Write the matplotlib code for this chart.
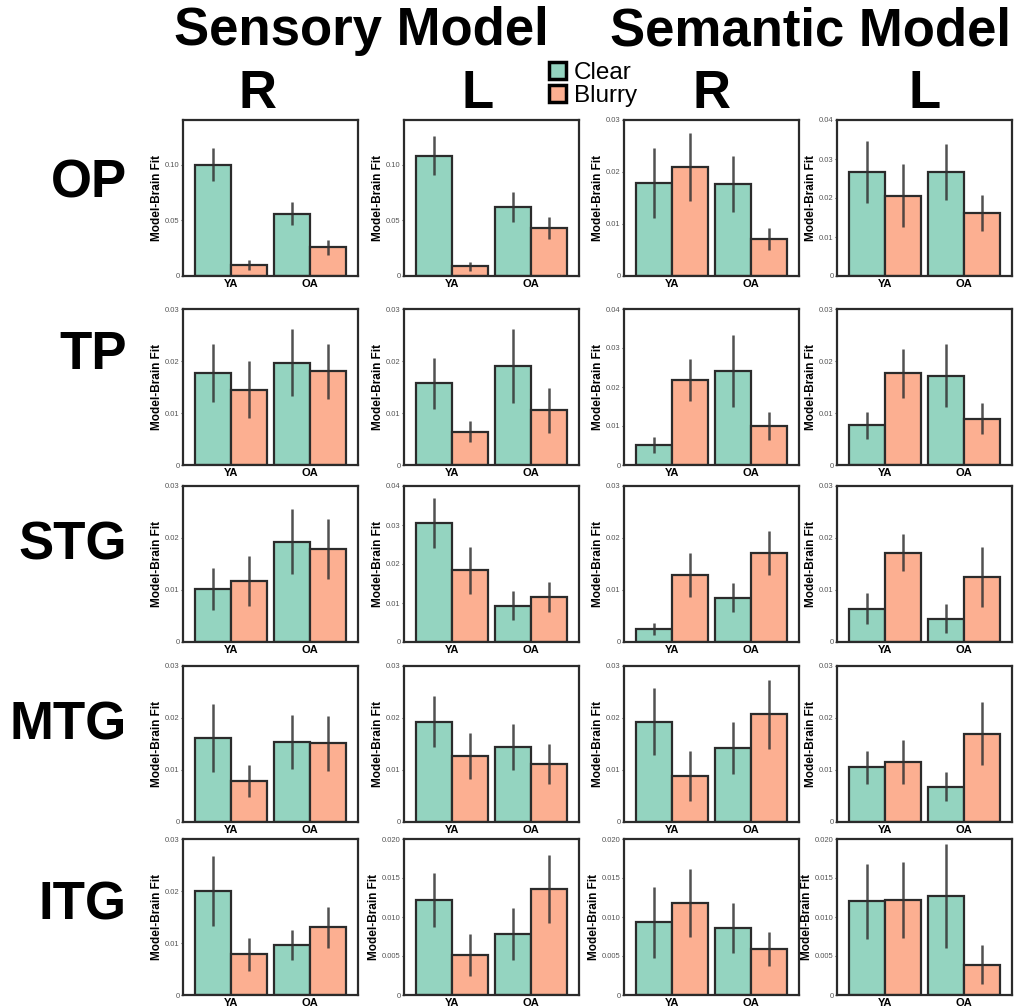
import matplotlib
matplotlib.use("Agg")
import matplotlib.pyplot as plt
from matplotlib.patches import Patch
from matplotlib.ticker import FuncFormatter
import numpy as np

plt.rcParams["font.family"] = ["Liberation Sans", "DejaVu Sans"]

regions = ["OP", "TP", "STG", "MTG", "ITG"]
col_titles = ["R", "L", "R", "L"]
groups = ["YA", "OA"]
conditions = ["Clear", "Blurry"]

# [region][panel][YA, OA]; panels = sensory R, sensory L, semantic R, semantic L
clear_mean = [
    [[0.100, 0.056], [0.108, 0.062], [0.0179, 0.0177], [0.0266, 0.0266]],
    [[0.0177, 0.0197], [0.0157, 0.0191], [0.0051, 0.0242], [0.0076, 0.0172]],
    [[0.0102, 0.0193], [0.0305, 0.0093], [0.0025, 0.0085], [0.0064, 0.0045]],
    [[0.0161, 0.0154], [0.0193, 0.0144], [0.0193, 0.0143], [0.0105, 0.0068]],
    [[0.0200, 0.0096], [0.0122, 0.0078], [0.0093, 0.0086], [0.0120, 0.0127]],
]
clear_err = [
    [[0.0148, 0.0104], [0.0177, 0.0134], [0.0068, 0.0053], [0.0080, 0.0072]],
    [[0.0056, 0.0065], [0.0049, 0.0071], [0.0020, 0.0092], [0.0026, 0.0061]],
    [[0.0040, 0.0062], [0.0063, 0.0037], [0.0012, 0.0028], [0.0030, 0.0028]],
    [[0.0065, 0.0052], [0.0049, 0.0044], [0.0064, 0.0050], [0.0032, 0.0028]],
    [[0.0068, 0.0029], [0.0035, 0.0033], [0.0045, 0.0032], [0.0048, 0.0067]],
]
blurry_mean = [
    [[0.010, 0.0257], [0.0088, 0.0428], [0.0210, 0.0071], [0.0206, 0.0161]],
    [[0.0145, 0.0180], [0.0064, 0.0105], [0.0218, 0.0100], [0.0176, 0.0089]],
    [[0.0118, 0.0179], [0.0184, 0.0116], [0.0129, 0.0171], [0.0172, 0.0125]],
    [[0.0079, 0.0151], [0.0127, 0.0112], [0.0089, 0.0207], [0.0116, 0.0170]],
    [[0.0078, 0.0130], [0.0051, 0.0136], [0.0118, 0.0059], [0.0122, 0.0039]],
]
blurry_err = [
    [[0.0043, 0.0068], [0.0039, 0.0099], [0.0065, 0.0021], [0.0081, 0.0046]],
    [[0.0055, 0.0053], [0.0020, 0.0043], [0.0055, 0.0035], [0.0048, 0.0030]],
    [[0.0048, 0.0058], [0.0060, 0.0039], [0.0043, 0.0042], [0.0036, 0.0058]],
    [[0.0030, 0.0052], [0.0044, 0.0038], [0.0048, 0.0066], [0.0042, 0.0060]],
    [[0.0032, 0.0039], [0.0027, 0.0044], [0.0044, 0.0022], [0.0049, 0.0025]],
]
# upper y limit and tick step for every panel
y_top = [
    [0.14, 0.14, 0.03, 0.04],
    [0.03, 0.03, 0.04, 0.03],
    [0.03, 0.04, 0.03, 0.03],
    [0.03, 0.03, 0.03, 0.03],
    [0.03, 0.020, 0.020, 0.020],
]
y_step = [
    [0.05, 0.05, 0.01, 0.01],
    [0.01, 0.01, 0.01, 0.01],
    [0.01, 0.01, 0.01, 0.01],
    [0.01, 0.01, 0.01, 0.01],
    [0.01, 0.005, 0.005, 0.005],
]

green = "#94d4c0"
orange = "#fcaf91"
W, H = 1017, 1007

col_left = [183, 404, 624, 837]
row_top = [120, 309, 486, 666, 839]
ax_w, ax_h = 175, 156
label_y = [184, 355, 546, 726, 906]
title_x = [258, 478, 712, 925]

fig = plt.figure(figsize=(W / 100, H / 100), dpi=100)

x = np.arange(len(groups))
bw = 0.45
for r in range(len(regions)):
    for c in range(4):
        ax = fig.add_axes([col_left[c] / W, 1 - (row_top[r] + ax_h) / H, ax_w / W, ax_h / H])
        for k, (m, e, col) in enumerate([(clear_mean, clear_err, green),
                                         (blurry_mean, blurry_err, orange)]):
            pos = x + (k - 0.5) * bw
            ax.bar(pos, m[r][c], width=bw, color=col, edgecolor="#2b2b2b", linewidth=1.6)
            ax.errorbar(pos, m[r][c], yerr=e[r][c], fmt="none", ecolor="#333333",
                        elinewidth=1.8, capsize=0, alpha=0.85)
        ax.set_xlim(-0.6, 1.6)
        ax.set_ylim(0, y_top[r][c])
        step = y_step[r][c]
        ax.set_yticks(np.arange(0, y_top[r][c] + 1e-9, step))
        dec = 3 if step < 0.01 else 2
        ax.yaxis.set_major_formatter(FuncFormatter(
            lambda v, p, d=dec: "0" if abs(v) < 1e-12 else f"{v:.{d}f}"))
        ax.set_xticks(x)
        ax.set_xticklabels(groups, fontsize=8, fontweight="bold")
        ax.tick_params(axis="y", labelsize=5.5, colors="#555555", length=1.5, pad=1)
        ax.tick_params(axis="x", length=0, pad=2)
        ax.set_ylabel("Model-Brain Fit", fontsize=8.5, fontweight="bold", labelpad=1.5)
        for s in ax.spines.values():
            s.set_linewidth(1.6)
            s.set_color("#2b2b2b")

for r, name in enumerate(regions):
    fig.text(127 / W, 1 - label_y[r] / H, name, fontsize=38, fontweight="bold",
             ha="right", va="center")

fig.text(361 / W, 1 - 31 / H, "Sensory Model", fontsize=38, fontweight="bold",
         ha="center", va="center")
fig.text(810 / W, 1 - 31 / H, "Semantic Model", fontsize=38, fontweight="bold",
         ha="center", va="center")
for c, t in enumerate(col_titles):
    fig.text(title_x[c] / W, 1 - 94 / H, t, fontsize=38,
             fontweight="bold", ha="center", va="center")

handles = [Patch(facecolor=green, edgecolor="black", linewidth=2.5),
           Patch(facecolor=orange, edgecolor="black", linewidth=2.5)]
fig.legend(handles, conditions, loc="upper left", bbox_to_anchor=(539 / W, 1 - 52 / H),
           frameon=False, fontsize=17.5, handlelength=0.7, handleheight=0.7,
           handletextpad=0.35, labelspacing=0.05, borderaxespad=0)

fig.savefig("out.png", dpi=100)
